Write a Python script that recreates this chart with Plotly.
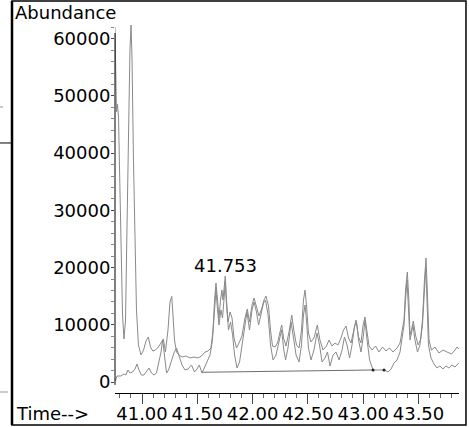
import plotly.graph_objects as go

# Chromatogram traces: retention time (min) and abundance (counts)
upper_time = [40.756, 40.763, 40.769, 40.778, 40.788, 40.797, 40.810, 40.824, 40.837, 40.851,
              40.864, 40.878, 40.891, 40.901, 40.910, 40.923, 40.937, 40.950, 40.968, 40.991,
              41.014, 41.036, 41.057, 41.077, 41.097, 41.122, 41.149, 41.172, 41.193, 41.212,
              41.235, 41.253, 41.269, 41.280, 41.294, 41.312, 41.335, 41.362, 41.398, 41.434,
              41.470, 41.506, 41.538, 41.570, 41.597, 41.624, 41.642, 41.656, 41.669, 41.683,
              41.696, 41.710, 41.723, 41.732, 41.753, 41.764, 41.778, 41.796, 41.814, 41.832,
              41.855, 41.877, 41.904, 41.931, 41.952, 41.972, 41.995, 42.013, 42.035, 42.058,
              42.081, 42.103, 42.121, 42.144, 42.162, 42.180, 42.203, 42.225, 42.248, 42.263,
              42.280, 42.302, 42.329, 42.354, 42.375, 42.397, 42.420, 42.442, 42.460, 42.474,
              42.487, 42.505, 42.528, 42.555, 42.585, 42.609, 42.636, 42.668, 42.691, 42.718,
              42.745, 42.772, 42.799, 42.822, 42.845, 42.867, 42.890, 42.913, 42.935, 42.958,
              42.980, 42.999, 43.016, 43.035, 43.053, 43.080, 43.111, 43.143, 43.175, 43.206,
              43.238, 43.270, 43.306, 43.333, 43.355, 43.369, 43.383, 43.399, 43.413, 43.423,
              43.437, 43.453, 43.473, 43.496, 43.518, 43.536, 43.554, 43.568, 43.581, 43.595,
              43.617, 43.649, 43.685, 43.721, 43.758, 43.799, 43.830, 43.848, 43.864]
upper_abund = [62050, 54500, 47200, 48600, 46150, 37060, 23070, 11710, 7520, 10840,
               26570, 45800, 58030, 62400, 56290, 38810, 23070, 12590, 6470, 4720,
               5590, 7170, 7870, 6120, 5420, 5590, 6120, 6820, 7520, 5240,
               9090, 13980, 14950, 11710, 7340, 5240, 4720, 4370, 4540, 4200,
               4370, 4200, 4540, 5240, 5420, 5940, 9090, 14330, 17310, 14330,
               11190, 14330, 16080, 14330, 18530, 14330, 10490, 12240, 11190, 7690,
               5940, 6820, 8040, 11190, 12760, 10490, 13460, 14680, 13280, 11540,
               12760, 14330, 15030, 13280, 9090, 6290, 6120, 6820, 8740, 9960,
               7690, 6290, 8740, 11710, 8740, 6470, 5940, 9090, 14330, 16080,
               13460, 8570, 6990, 7690, 9960, 7340, 5590, 6290, 7340, 6290,
               6820, 6470, 7690, 9090, 9790, 7690, 6820, 9090, 10840, 7870,
               6820, 9960, 11360, 8740, 6290, 5590, 6290, 5240, 6120, 5420,
               5940, 5240, 5940, 6820, 9090, 10840, 16080, 19230, 14330, 8220,
               9090, 10660, 8220, 6470, 7340, 10840, 17830, 21680, 15210, 7340,
               5590, 6120, 5070, 5590, 5240, 4890, 5590, 6120, 5770]

lower_time = [40.760, 40.774, 40.810, 40.837, 40.855, 40.873, 40.891, 40.914, 40.937, 40.955,
              40.973, 40.995, 41.018, 41.041, 41.063, 41.086, 41.109, 41.131, 41.149, 41.172,
              41.187, 41.203, 41.222, 41.240, 41.262, 41.289, 41.312, 41.335, 41.362, 41.389,
              41.416, 41.448, 41.475, 41.497, 41.518, 41.543, 41.565, 41.588, 41.615, 41.637,
              41.656, 41.669, 41.683, 41.696, 41.714, 41.728, 41.741, 41.753, 41.764, 41.782,
              41.801, 41.819, 41.837, 41.859, 41.882, 41.904, 41.926, 41.949, 41.972, 41.995,
              42.013, 42.035, 42.054, 42.076, 42.099, 42.117, 42.140, 42.162, 42.185, 42.212,
              42.239, 42.262, 42.280, 42.298, 42.320, 42.348, 42.370, 42.393, 42.420, 42.442,
              42.460, 42.474, 42.487, 42.505, 42.528, 42.555, 42.582, 42.605, 42.628, 42.655,
              42.677, 42.700, 42.727, 42.754, 42.782, 42.809, 42.831, 42.854, 42.877, 42.899,
              42.922, 42.940, 42.958, 42.980, 43.003, 43.016, 43.035, 43.058, 43.089, 43.134,
              43.188, 43.225, 43.252, 43.279, 43.306, 43.333, 43.355, 43.369, 43.383, 43.396,
              43.410, 43.423, 43.437, 43.450, 43.468, 43.491, 43.513, 43.536, 43.554, 43.565,
              43.577, 43.590, 43.613, 43.640, 43.667, 43.694, 43.721, 43.748, 43.775, 43.802,
              43.830, 43.864]
lower_abund = [170, 1050, 1050, 1400, 1220, 2100, 1570, 1750, 2270, 3150,
               2100, 1220, 1220, 1920, 2450, 1570, 1220, 1570, 2970, 5240,
               7340, 4540, 1570, 2100, 3500, 5070, 5940, 4540, 2970, 2100,
               2270, 2970, 1750, 2270, 2970, 1570, 2450, 3500, 4720, 7340,
               13460, 16080, 12590, 9960, 12590, 11190, 14330, 17480, 13460, 9090,
               10490, 8220, 4720, 2450, 3500, 6470, 9960, 12240, 9090, 12590,
               13980, 12240, 9960, 11890, 13810, 14330, 11710, 6470, 3850, 4720,
               7340, 9090, 5940, 3850, 5940, 10490, 7690, 4720, 3500, 6470,
               11710, 13460, 10840, 5940, 3850, 5590, 8570, 6470, 3500, 4200,
               5240, 2800, 4720, 5240, 3850, 5590, 7870, 6470, 4200, 6470,
               9790, 10490, 7340, 5240, 8220, 10840, 7340, 3850, 2100, 2100,
               2100, 1750, 2270, 3320, 3850, 5240, 8220, 9960, 14330, 17830,
               12590, 7340, 8570, 9960, 7340, 5240, 6470, 9960, 16080, 19930,
               14330, 6470, 4200, 3150, 2450, 2800, 2270, 2800, 2450, 2970,
               2620, 3320]

# Integration baseline under the labelled peak
baseline_time = [41.543, 43.089]
baseline_abund = [1700, 2100]
baseline_mark_time = [43.089, 43.188]
baseline_mark_abund = [2100, 2100]

peak_label = "41.753"
peak_label_time = 41.753
peak_label_abund = 20300

x_range = [40.7559, 43.8662]
y_range = [-1923, 62928]
y_axis_top = 61000

FONT = "DejaVu Sans"
TRACE_COLOR = "#8a8a8a"

fig = go.Figure()
fig.add_trace(go.Scatter(x=upper_time, y=upper_abund, mode="lines",
                         line=dict(color=TRACE_COLOR, width=1), hoverinfo="skip"))
fig.add_trace(go.Scatter(x=lower_time, y=lower_abund, mode="lines",
                         line=dict(color=TRACE_COLOR, width=1), hoverinfo="skip"))
fig.add_trace(go.Scatter(x=baseline_time, y=baseline_abund, mode="lines",
                         line=dict(color="#6e6e6e", width=1), hoverinfo="skip"))
fig.add_trace(go.Scatter(x=baseline_mark_time, y=baseline_mark_abund, mode="markers",
                         marker=dict(color="#222", size=3), hoverinfo="skip"))

# page frame
shapes = [
    dict(type="rect", xref="paper", yref="paper", x0=-0.2994, x1=1.0203, y0=-0.0863, y1=1.0566,
         line=dict(color="black", width=1.5)),
    dict(type="line", xref="paper", yref="paper", x0=-0.2994, x1=-0.2994, y0=-0.0863, y1=1.0566,
         line=dict(color="black", width=2.5)),
    # y axis line (stops at the top tick region)
    dict(type="line", xref="paper", yref="y", x0=0, x1=0, y0=-500, y1=y_axis_top,
         line=dict(color="black", width=1)),
    # small marks left of the frame
    dict(type="line", xref="paper", yref="paper", x0=-0.3343, x1=-0.2994, y0=0.6739, y1=0.6739,
         line=dict(color="black", width=1)),
    dict(type="line", xref="paper", yref="paper", x0=-0.3343, x1=-0.3256, y0=0.7709, y1=0.7709,
         line=dict(color="#999", width=1)),
    dict(type="line", xref="paper", yref="paper", x0=-0.3343, x1=-0.311, y0=0.0027, y1=0.0027,
         line=dict(color="#999", width=1)),
]

annotations = [
    dict(text="Abundance", xref="paper", yref="paper", x=-0.2965, y=1.0243,
         xanchor="left", yanchor="middle", showarrow=False,
         font=dict(family=FONT, size=18, color="black")),
    dict(text="Time-->", xref="paper", yref="paper", x=-0.2936, y=-0.0566,
         xanchor="left", yanchor="middle", showarrow=False,
         font=dict(family=FONT, size=18, color="black")),
    dict(text=peak_label, xref="x", yref="y", x=peak_label_time, y=peak_label_abund,
         xanchor="center", yanchor="middle", showarrow=False,
         font=dict(family=FONT, size=18, color="black")),
]

fig.update_layout(
    width=469, height=427,
    margin=dict(l=115, r=10, t=22, b=34, pad=0),
    paper_bgcolor="white", plot_bgcolor="white",
    showlegend=False,
    shapes=shapes,
    annotations=annotations,
    xaxis=dict(range=x_range, showgrid=False, zeroline=False, automargin=False,
               showline=True, linecolor="black", linewidth=1,
               ticks="outside", ticklen=10, tickcolor="#444", tickwidth=1,
               tick0=41.0, dtick=0.5, tickformat=".2f", ticklabelstandoff=-6,
               minor=dict(ticks="outside", ticklen=4, tickcolor="#666", dtick=0.1, tick0=41.0),
               tickfont=dict(family=FONT, size=18, color="black")),
    yaxis=dict(range=y_range, showgrid=False, zeroline=False, showline=False, automargin=False,
               ticks="outside", ticklen=3, tickcolor="#444", tickwidth=1,
               tick0=0, dtick=10000, tickformat="d", ticklabelstandoff=-3,
               minor=dict(ticks="outside", ticklen=3, tickcolor="#888", dtick=2000, tick0=0),
               tickfont=dict(family=FONT, size=18, color="black")),
)

fig.write_html("out.html")
